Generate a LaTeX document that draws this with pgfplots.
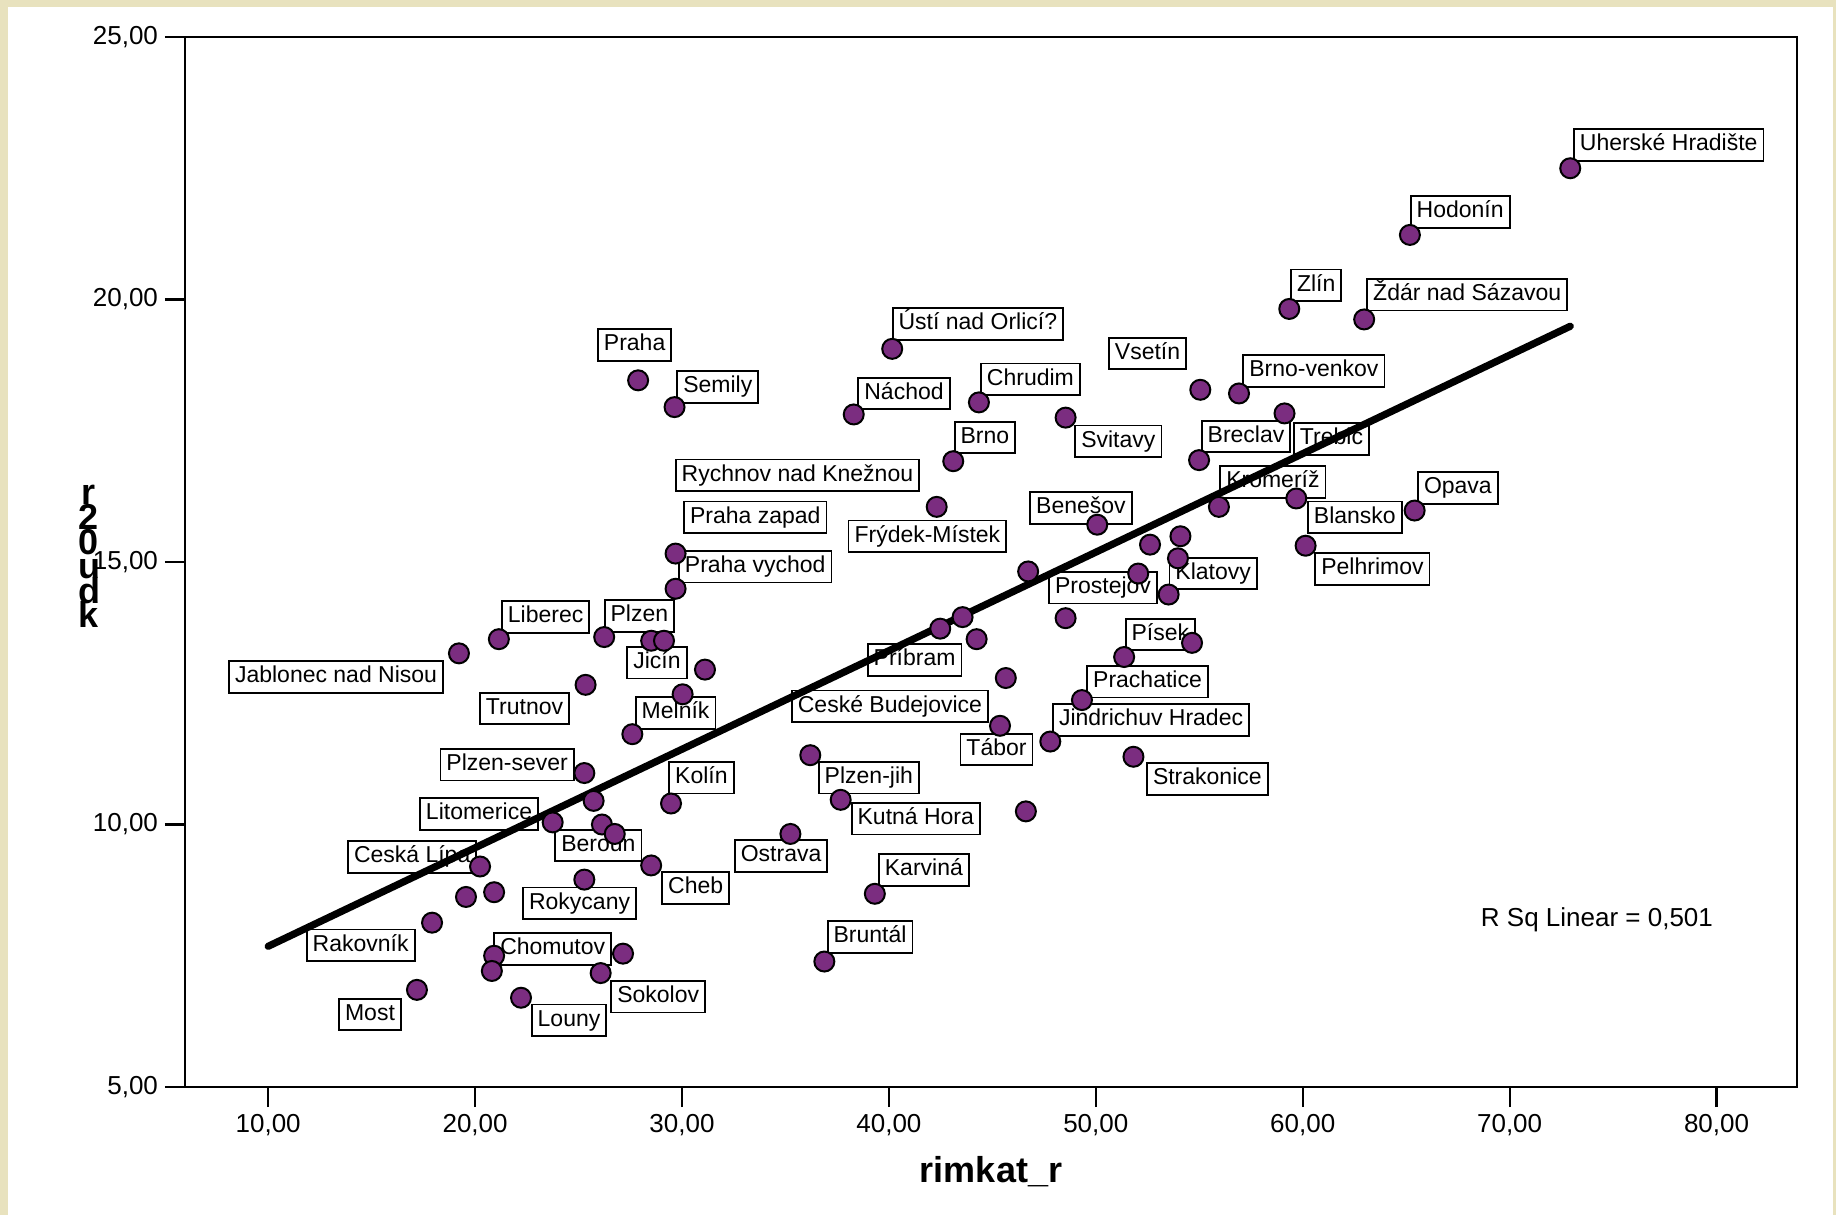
\documentclass[border=0pt]{standalone}
\usepackage{pgfplots}
\pgfplotsset{compat=1.18}
\usepackage{fontspec}
\setmainfont{Liberation Sans}
\definecolor{beige}{HTML}{E8E2BE}
\definecolor{dotpurple}{HTML}{7B2D80}
\tikzset{lbl/.style={draw=black, line width=0.9pt, fill=white,
    font=\fontsize{11.5}{13}\selectfont, inner xsep=3pt, inner ysep=2.5pt,
    text height=8.3pt, text depth=2.5pt}}
\begin{document}
\begin{tikzpicture}
\fill[beige] (0,0) rectangle (918pt,607.5pt);
\fill[white] (4pt,0) rectangle (916.5pt,604pt);
\begin{axis}[
  at={(92.5pt,64pt)}, anchor=south west,
  scale only axis, width=806pt, height=525pt,
  xmin=5.98, xmax=83.89, ymin=5, ymax=25,
  xtick={10,20,...,80}, ytick={5,10,...,25},
  xtick pos=left, ytick pos=left,
  tick align=outside, major tick length=10pt,
  axis line style={line width=1.3pt},
  tick style={line width=1.1pt, black},
  /pgf/number format/fixed, /pgf/number format/fixed zerofill,
  /pgf/number format/precision=2, /pgf/number format/use comma,
  /pgf/number format/assume math mode=true,
  ticklabel style={font=\fontsize{13}{15}\selectfont},
  clip=false,
]
\addplot[only marks, mark=*, mark size=5pt,
  mark options={fill=dotpurple, draw=black, line width=1pt}] table {
x y
72.93 22.50
65.18 21.23
59.35 19.82
62.97 19.62
40.16 19.06
27.88 18.46
29.64 17.95
38.30 17.81
44.35 18.04
48.54 17.75
55.05 18.28
56.92 18.21
59.12 17.83
54.99 16.94
43.11 16.92
42.31 16.05
55.95 16.05
59.69 16.21
65.41 15.98
60.14 15.31
50.07 15.71
52.62 15.33
54.09 15.49
29.69 15.16
29.69 14.49
46.73 14.82
53.97 15.07
52.05 14.78
53.52 14.38
48.54 13.93
43.56 13.95
42.48 13.73
44.24 13.53
51.37 13.19
54.65 13.46
45.65 12.79
49.33 12.37
45.37 11.88
47.80 11.58
51.82 11.29
46.62 10.25
36.20 11.32
37.67 10.47
35.24 9.82
39.32 8.68
36.88 7.39
21.15 13.53
19.22 13.26
26.24 13.57
28.51 13.50
29.13 13.50
31.11 12.95
25.34 12.66
30.03 12.48
27.60 11.72
25.28 10.98
25.73 10.45
29.47 10.40
23.75 10.04
26.13 10.00
26.75 9.82
28.51 9.22
20.24 9.20
25.28 8.95
20.92 8.71
19.56 8.62
17.92 8.13
20.92 7.50
20.81 7.21
27.15 7.54
26.07 7.17
22.22 6.70
17.19 6.85
};
\node[lbl] at (axis cs:77.69,22.94) {Uherské Hradište};
\node[lbl] at (axis cs:67.61,21.67) {Hodonín};
\node[lbl] at (axis cs:60.65,20.27) {Zlín};
\node[lbl] at (axis cs:67.95,20.09) {Ždár nad Sázavou};
\node[lbl] at (axis cs:44.30,19.53) {Ústí nad Orlicí?};
\node[lbl] at (axis cs:27.71,19.13) {Praha};
\node[lbl] at (axis cs:31.73,18.33) {Semily};
\node[lbl] at (axis cs:40.73,18.21) {Náchod};
\node[lbl] at (axis cs:46.84,18.48) {Chrudim};
\node[lbl] at (axis cs:52.50,18.97) {Vsetín};
\node[lbl] at (axis cs:60.54,18.64) {Brno-venkov};
\node[lbl] at (axis cs:44.64,17.37) {Brno};
\node[lbl] at (axis cs:51.09,17.30) {Svitavy};
\node[lbl] at (axis cs:57.26,17.39) {Breclav};
\node[lbl] at (axis cs:61.39,17.34) {Trebic};
\node[lbl] at (axis cs:35.58,16.65) {Rychnov nad Knežnou};
\node[lbl] at (axis cs:33.54,15.85) {Praha zapad};
\node[lbl] at (axis cs:58.56,16.52) {Kromeríž};
\node[lbl] at (axis cs:67.50,16.41) {Opava};
\node[lbl] at (axis cs:49.28,16.03) {Benešov};
\node[lbl] at (axis cs:62.52,15.85) {Blansko};
\node[lbl] at (axis cs:41.86,15.49) {Frýdek-Místek};
\node[lbl] at (axis cs:33.54,14.91) {Praha vychod};
\node[lbl] at (axis cs:63.37,14.87) {Pelhrimov};
\node[lbl] at (axis cs:55.67,14.78) {Klatovy};
\node[lbl] at (axis cs:50.35,14.51) {Prostejov};
\node[lbl] at (axis cs:23.41,13.95) {Liberec};
\node[lbl] at (axis cs:27.94,13.97) {Plzen};
\node[lbl] at (axis cs:53.12,13.62) {Písek};
\node[lbl] at (axis cs:13.28,12.81) {Jablonec nad Nisou};
\node[lbl] at (axis cs:28.79,13.08) {Jicín};
\node[lbl] at (axis cs:41.24,13.13) {Príbram};
\node[lbl] at (axis cs:52.50,12.72) {Prachatice};
\node[lbl] at (axis cs:22.39,12.21) {Trutnov};
\node[lbl] at (axis cs:29.69,12.12) {Melník};
\node[lbl] at (axis cs:40.05,12.25) {Ceské Budejovice};
\node[lbl] at (axis cs:52.67,11.99) {Jindrichuv Hradec};
\node[lbl] at (axis cs:45.20,11.43) {Tábor};
\node[lbl] at (axis cs:21.55,11.14) {Plzen-sever};
\node[lbl] at (axis cs:30.94,10.89) {Kolín};
\node[lbl] at (axis cs:39.03,10.89) {Plzen-jih};
\node[lbl] at (axis cs:55.39,10.87) {Strakonice};
\node[lbl] at (axis cs:20.19,10.20) {Litomerice};
\node[lbl] at (axis cs:41.30,10.11) {Kutná Hora};
\node[lbl] at (axis cs:25.96,9.60) {Beroun};
\node[lbl] at (axis cs:34.79,9.40) {Ostrava};
\node[lbl] at (axis cs:16.96,9.38) {Ceská Lípa};
\node[lbl] at (axis cs:30.66,8.79) {Cheb};
\node[lbl] at (axis cs:41.69,9.13) {Karviná};
\node[lbl] at (axis cs:25.05,8.50) {Rokycany};
\node[lbl] at (axis cs:14.47,7.70) {Rakovník};
\node[lbl] at (axis cs:39.09,7.86) {Bruntál};
\node[lbl] at (axis cs:23.75,7.63) {Chomutov};
\node[lbl] at (axis cs:28.85,6.72) {Sokolov};
\node[lbl] at (axis cs:14.92,6.38) {Most};
\node[lbl] at (axis cs:24.54,6.27) {Louny};
\addplot[black, line width=3.6pt, line cap=round] coordinates {(10,7.68) (72.93,19.49)};
\node[font=\fontsize{13}{15}\selectfont] at (axis cs:74.22,8.18) {R Sq Linear = 0,501};
\node[font=\bfseries\fontsize{18}{20}\selectfont, anchor=base, yshift=-47.5pt] at (rel axis cs:0.5,0) {rimkat\_r};
\node[inner sep=0pt, xshift=-48pt, font=\bfseries\fontsize{18}{20}\selectfont] at (rel axis cs:0,0.505) {\vbox{\baselineskip=12.3pt\lineskiplimit=-100pt\lineskip=0pt
\hbox to 14pt{\hss r\hss}\hbox to 14pt{\hss 2\hss}\hbox to 14pt{\hss 0\hss}\hbox to 14pt{\hss u\hss}\hbox to 14pt{\hss d\hss}\hbox to 14pt{\hss k\hss}}};
\end{axis}
\pgfresetboundingbox
\useasboundingbox (0,0) rectangle (918pt,607.5pt);
\end{tikzpicture}
\end{document}
